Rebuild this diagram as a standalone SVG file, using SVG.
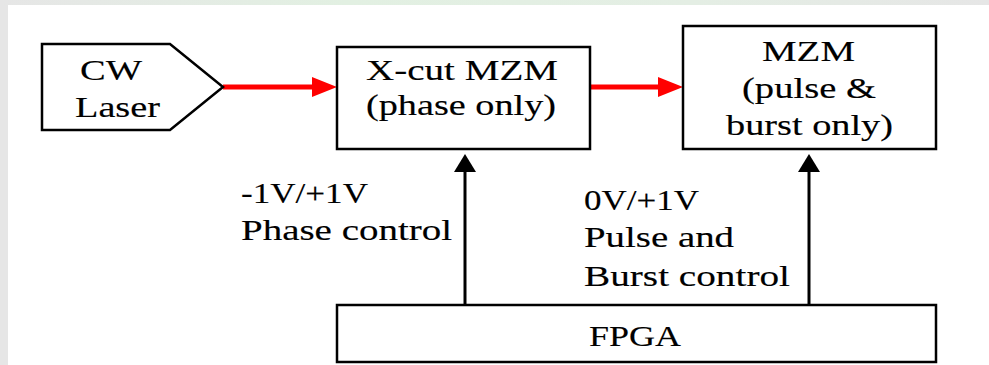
<svg xmlns="http://www.w3.org/2000/svg" width="989" height="365" viewBox="0 0 989 365">
  <defs>
    <linearGradient id="topGlow" x1="0" y1="0" x2="1" y2="0">
      <stop offset="0" stop-color="#e6e6e6"/>
      <stop offset="0.35" stop-color="#e2f0e2"/>
      <stop offset="0.7" stop-color="#e4eee4"/>
      <stop offset="1" stop-color="#e6e6e6"/>
    </linearGradient>
    <marker id="redHead" markerUnits="userSpaceOnUse" markerWidth="25" markerHeight="20" refX="4" refY="10" orient="auto">
      <path d="M0,0 L25,10 L0,20 z" fill="#ff0000"/>
    </marker>
    <marker id="blackHead" markerUnits="userSpaceOnUse" markerWidth="18" markerHeight="22" refX="2" refY="11" orient="auto">
      <path d="M0,0 L18,11 L0,22 z" fill="#000"/>
    </marker>
  </defs>
  <style>
    .box { fill: #fff; stroke: #000; stroke-width: 2.5; }
    .lbl { font-family: "Liberation Serif", "Times New Roman", serif; font-size: 30px; fill: #000; stroke: #000; stroke-width: 0.15; }
    .c { text-anchor: middle; }
    .red { stroke: #ff0000; stroke-width: 5; fill: none; }
    .blk { stroke: #000; stroke-width: 3; fill: none; }
  </style>

  <!-- background -->
  <rect x="0" y="0" width="989" height="365" fill="#e6e6e6"/>
  <rect x="0" y="0" width="989" height="5" fill="url(#topGlow)"/>
  <rect x="8" y="5" width="981" height="360" fill="#ffffff"/>

  <g id="connectors">
    <line class="red" x1="223" y1="87" x2="316" y2="87" marker-end="url(#redHead)"/>
    <line class="red" x1="590" y1="87" x2="662" y2="87" marker-end="url(#redHead)"/>
    <line class="blk" x1="465" y1="305" x2="465" y2="170" marker-end="url(#blackHead)"/>
    <line class="blk" x1="809" y1="305" x2="809" y2="170" marker-end="url(#blackHead)"/>
  </g>

  <g id="cw-laser">
    <polygon class="box" points="42,44 170,44 223,87 170,130 42,130"/>
    <text class="lbl c" x="111" y="80" textLength="62" lengthAdjust="spacingAndGlyphs">CW</text>
    <text class="lbl c" x="117.5" y="117" textLength="85" lengthAdjust="spacingAndGlyphs">Laser</text>
  </g>

  <g id="xcut-mzm">
    <rect class="box" x="337" y="47" width="253" height="102"/>
    <text class="lbl c" x="462" y="80" textLength="192" lengthAdjust="spacingAndGlyphs">X-cut MZM</text>
    <text class="lbl c" x="461" y="115" textLength="190" lengthAdjust="spacingAndGlyphs">(phase only)</text>
  </g>

  <g id="mzm">
    <rect class="box" x="683" y="26" width="253" height="123"/>
    <text class="lbl c" x="808.5" y="61" textLength="93" lengthAdjust="spacingAndGlyphs">MZM</text>
    <text class="lbl c" x="809" y="98" textLength="134" lengthAdjust="spacingAndGlyphs">(pulse &amp;</text>
    <text class="lbl c" x="809.5" y="135" textLength="167" lengthAdjust="spacingAndGlyphs">burst only)</text>
  </g>

  <g id="fpga">
    <rect class="box" x="337" y="305" width="599" height="57"/>
    <text class="lbl c" x="635" y="346" textLength="92" lengthAdjust="spacingAndGlyphs">FPGA</text>
  </g>

  <g id="phase-label">
    <text class="lbl" x="241" y="203" textLength="127" lengthAdjust="spacingAndGlyphs">-1V/+1V</text>
    <text class="lbl" x="241" y="240" textLength="211" lengthAdjust="spacingAndGlyphs">Phase control</text>
  </g>

  <g id="pulse-label">
    <text class="lbl" x="584" y="210" textLength="115" lengthAdjust="spacingAndGlyphs">0V/+1V</text>
    <text class="lbl" x="584" y="247" textLength="150" lengthAdjust="spacingAndGlyphs">Pulse and</text>
    <text class="lbl" x="584" y="286" textLength="206" lengthAdjust="spacingAndGlyphs">Burst control</text>
  </g>
</svg>
